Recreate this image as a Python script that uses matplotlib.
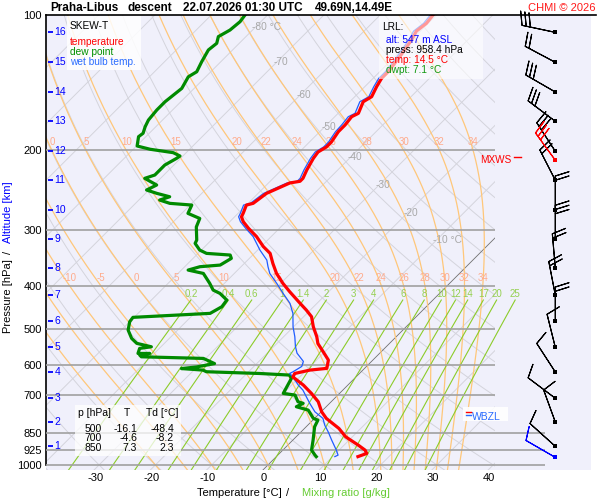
import numpy as np
import matplotlib
matplotlib.use('Agg')
import matplotlib.pyplot as plt
from matplotlib.patches import Rectangle
from matplotlib.lines import Line2D
from matplotlib.transforms import ScaledTranslation

plt.rcParams['font.family'] = ['Liberation Sans', 'DejaVu Sans']
plt.rcParams['axes.unicode_minus'] = False

# ---------------- data ----------------
temp_p = [100, 104.4, 108.6, 113.6, 123.8, 133.7, 138.3, 144.3, 151.9, 155.9, 165.4, 168.3, 175.6, 181.7, 191.6,
          196.5, 201.6, 208.3, 221.1, 230.7, 234.2, 236.2, 249.1, 262.2, 264.5, 276.0, 280.8, 288.0, 297.9, 310.8,
          327.2, 338.7, 356.8, 375.3, 394.9, 412.2, 437.4, 452.7, 468.3, 493.0, 519.0, 537.3, 560.4, 584.7, 610.1,
          615.5, 626.3, 637.6, 664.6, 693.4, 723.7, 762.0, 788.2, 829.5, 866.0, 903.5, 926.9, 942.8, 958.4]
temp_T = [-50.6, -50.3, -50.7, -50.0, -49.1, -48.5, -48.5, -47.9, -47.0, -47.6, -46.4, -47.0, -46.7, -46.7, -46.1,
          -46.1, -46.7, -46.4, -45.5, -44.7, -44.7, -46.2, -48.5, -49.1, -50.0, -49.1, -48.8, -47.6, -45.5, -42.6,
          -39.6, -37.2, -34.9, -32.5, -29.6, -26.9, -23.0, -20.7, -18.6, -16.5, -14.1, -12.7, -10.3, -7.9, -6.7,
          -9.4, -11.5, -11.2, -7.9, -5.0, -2.3, 0.1, 2.1, 6.1, 8.8, 12.5, 14.6, 15.5, 14.5]

wetb_p = [100, 104.4, 108.6, 113.6, 123.8, 133.7, 138.3, 144.3, 151.9, 155.9, 165.4, 168.3, 175.6, 181.7, 191.6,
          196.5, 201.6, 208.3, 221.1, 230.7, 234.2, 236.2, 249.1, 262.2, 264.5, 276.0, 280.8, 288.0, 297.9,
          310.8, 333.0, 350.5, 362.7, 375.3, 394.9, 415.6, 437.4, 460.4, 493.0, 519.0, 545.0, 564.4, 588.8, 604.1,
          620.7, 626.3, 637.6, 664.6, 681.8, 705.5, 730.0, 762.0, 788.2, 815.6, 844.0, 880.7, 926.9, 951.0, 958.4]
wetb_T = [-51.1, -50.8, -51.2, -50.5, -49.6, -49.0, -49.0, -48.4, -47.5, -48.2, -47.0, -47.6, -47.3, -47.2, -46.6,
          -46.6, -47.2, -46.9, -46.0, -45.2, -45.2, -46.7, -49.0, -49.6, -50.5, -49.6, -49.3, -48.1, -46.0,
          -43.2, -39.6, -36.6, -35.2, -33.7, -30.7, -27.8, -24.8, -22.5, -20.1, -18.0, -16.2, -14.7, -12.1, -11.5,
          -12.1, -12.4, -11.2, -8.8, -7.1, -5.3, -3.5, -1.1, 1.5, 3.0, 4.8, 6.9, 9.5, 10.7, 10.4]

dwpt_p = [100, 103.5, 108.0, 111.7, 115.6, 119.6, 127.0, 133.7, 137.2, 145.6, 150.6, 155.9, 162.6, 171.2, 177.1,
          183.2, 186.4, 195.5, 198.8, 202.3, 205.8, 208.3, 215.5, 226.8, 230.7, 238.7, 244.9, 249.1, 253.5, 257.8,
          262.2, 264.5, 276.0, 283.3, 295.9, 316.4, 321.8, 333.0, 338.7, 341.6, 347.5, 359.6, 362.6, 368.9, 375.3,
          394.9, 408.7, 415.7, 430.1, 445.0, 460.4, 469.9, 480.6, 501.5, 523.3, 536.8, 546.3, 550.8, 565.2, 565.2,
          570.0, 575.0, 579.8, 595.3, 605.7, 610.7, 615.5, 620.7, 626.3, 631.4, 642.6, 693.4, 699.5, 723.7, 729.6,
          742.4, 755.3, 788.2, 795.0, 822.6, 880.7, 926.9, 951.0, 958.4]
dwpt_T = [-84.0, -83.7, -84.0, -84.9, -84.0, -84.3, -83.4, -82.5, -83.1, -82.2, -82.5, -82.8, -82.8, -82.5, -81.9,
          -81.1, -81.3, -79.9, -77.0, -72.3, -70.5, -70.7, -71.6, -71.6, -72.8, -69.5, -70.4, -68.0, -65.1, -66.3,
          -63.9, -59.7, -58.9, -55.9, -55.0, -52.6, -52.3, -50.3, -48.5, -44.0, -43.2, -44.0, -47.3, -48.8, -45.5,
          -42.6, -40.8, -39.0, -36.6, -36.3, -37.2, -50.2, -50.0, -48.8, -46.7, -44.9, -41.7, -43.5, -42.9, -40.8,
          -42.3, -41.7, -30.4, -27.5, -30.1, -32.5, -28.4, -27.5, -17.7, -12.1, -11.2, -10.0, -7.6, -5.9, -4.7,
          -5.3, -2.6, -0.2, 0.9, 1.5, 3.6, 5.1, 6.6, 7.1]

alt_km = [1, 2, 3, 4, 5, 6, 7, 8, 9, 10, 11, 12, 13, 14, 15, 16]
alt_p = [909.1, 802.8, 711.0, 621.5, 547.7, 478.8, 419.1, 364.5, 315.1, 271.3, 233.0, 200.9, 172.3, 148.3, 127.4, 109.3]
wind_dir = [312, 340, 307, 327, 346, 0, 349, 355, 0, 0, 333, 327, 307, 300, 298, 282]
wind_spd = [10, 10, 10, 10, 10, 20, 20, 20, 30, 20, 20, 30, 30, 30, 20, 30]

lrl_alt = 547
lrl_press = 958.4
lrl_temp = 14.5
lrl_dwpt = 7.1
lrl_wdir, lrl_wspd = 300, 10
mxws_p, mxws_dir, mxws_spd = 210.4, 324, 30
frz_p = 763.9
wbzl_p = 775.7

tab_p = [500, 700, 850]
tab_T = [-16.1, -4.6, 7.3]
tab_Td = [-48.4, -8.2, 2.3]

press_ticks = [100, 200, 300, 400, 500, 600, 700, 850, 925, 1000]
temp_ticks = [-30, -20, -10, 0, 10, 20, 30, 40]
mr_vals = [0.2, 0.4, 0.6, 1, 1.4, 2, 3, 4, 6, 8, 10, 12, 14, 17, 20, 25]
thw_vals = [-20, -15, -10, -5, 0, 5, 10, 15, 20, 22, 24, 26, 28, 30, 32, 34]
iso_lab_T = [-80, -70, -60, -50, -40, -30, -20, -10]
iso_lab_p = [106.3, 127.2, 150.6, 177.3, 206.9, 238.7, 275.5, 316.3]

# ---------------- geometry ----------------
K = 34.71            # skew: degC per ln(p) unit
PX = 5.63            # pixels per degC
X0PX = 268.0         # pixel of 0 degC at 1000 hPa
PBOT, PTOP = 1026.3, 100.0
XL, XR = (46 - X0PX) / PX, (591 - X0PX) / PX
XCLIP = (495 - X0PX) / PX
XLOW = (545 - X0PX) / PX


def skx(T, p):
    return np.asarray(T, dtype=float) + K * np.log(1000.0 / np.asarray(p, dtype=float))


def pxx(px):
    return (px - X0PX) / PX


fig = plt.figure(figsize=(6, 5), dpi=100)
fig.patch.set_facecolor('white')
ax = fig.add_axes([46 / 600, 30 / 500, 545 / 600, 455 / 500])
ax.set_facecolor('#f0f0fb')
ax.set_yscale('log')
ax.set_ylim(PBOT, PTOP)
ax.set_xlim(XL, XR)
for s in ['top', 'right', 'bottom']:
    ax.spines[s].set_visible(False)
ax.spines['left'].set_bounds(1000, 100)
ax.spines['left'].set_linewidth(1.2)

ax.set_yticks(press_ticks)
ax.set_yticklabels([str(v) for v in press_ticks])
ax.yaxis.set_minor_locator(matplotlib.ticker.NullLocator())
ax.tick_params(axis='y', length=0, pad=3, labelsize=8)
ax.set_xticks(temp_ticks)
ax.set_xticklabels([str(v) for v in temp_ticks])
ax.tick_params(axis='x', length=0, pad=2.5, labelsize=8)
for lab in ax.get_xticklabels():
    lab.set_transform(lab.get_transform() + ScaledTranslation(-0.04, 0, fig.dpi_scale_trans))

clip = Rectangle((0, 0), (495 - 46) / 545, 1, transform=ax.transAxes)
pp = np.geomspace(PBOT, PTOP, 300)

# isotherms
for T in range(-130, 60, 10):
    if T == 0:
        ln, = ax.plot(skx(T, pp), pp, color='#707070', lw=0.6, zorder=2)
    else:
        ln, = ax.plot(skx(T, pp), pp, color='#d4d4dc', lw=0.7, zorder=1)
    ln.set_clip_path(clip)
# dry adiabats
for th in range(-40, 220, 10):
    Tk = (th + 273.15) * (pp / 1000.0) ** 0.2857 - 273.15
    ln, = ax.plot(skx(Tk, pp), pp, color='#d4d4dc', lw=0.7, zorder=1)
    ln.set_clip_path(clip)


# pseudo adiabats
def dTdp(T, p):
    es = 6.112 * np.exp(17.67 * (T - 273.15) / (T - 29.65))
    rs = 0.622 * es / (p - es)
    return (287.04 * T + 2.501e6 * rs) / (1005.7 + 2.501e6 ** 2 * rs * 0.622 / (287.04 * T * T)) / p


def integ(T0, plev):
    out = [T0.copy()]
    T = T0.copy()
    for i in range(len(plev) - 1):
        p0, p1 = plev[i], plev[i + 1]
        h = p1 - p0
        k1 = dTdp(T, p0)
        k2 = dTdp(T + 0.5 * h * k1, p0 + 0.5 * h)
        k3 = dTdp(T + 0.5 * h * k2, p0 + 0.5 * h)
        k4 = dTdp(T + h * k3, p1)
        T = T + h / 6 * (k1 + 2 * k2 + 2 * k3 + k4)
        out.append(T.copy())
    return np.array(out)


T0 = np.array(thw_vals, dtype=float) + 273.15
p_up = np.geomspace(1000, PTOP, 400)
p_dn = np.geomspace(1000, PBOT, 20)
Tup = integ(T0, p_up)
Tdn = integ(T0, p_dn)
p_all = np.concatenate([p_dn[::-1], p_up[1:]])
for j, thw in enumerate(thw_vals):
    Tall = np.concatenate([Tdn[::-1, j], Tup[1:, j]]) - 273.15
    Xall = skx(Tall, p_all)
    ln, = ax.plot(Xall, p_all, color='#ffc77a', lw=0.9, zorder=2)
    ln.set_clip_path(clip)
    for plab in (200, 400):
        xl = np.interp(np.log(plab), np.log(p_up[::-1]), skx(Tup[::-1, j] - 273.15, p_up[::-1]))
        if pxx(50) < xl < pxx(492):
            ax.text(xl, plab * 0.985, str(thw), ha='center', va='bottom', color='#ffab8c', fontsize=7, zorder=3)

# mixing ratio lines
pm = np.geomspace(PBOT, 430, 60)
for w in mr_vals:
    e = w * pm / (622.0 + w)
    a = np.log(e / 6.112)
    Td = 243.5 * a / (17.67 - a)
    ax.plot(skx(Td, pm), pm, color='#8ccc2a', lw=0.8, zorder=2)
    lab = ('%g' % w)
    ax.text(skx(Td[-1], pm[-1]), 428, lab, ha='center', va='bottom', color='#95d050', fontsize=7, zorder=3)

# isotherm labels
for T, pl in zip(iso_lab_T, iso_lab_p):
    s = '%d °C' % T if T in (-80, -10) else '%d' % T
    ax.text(skx(T, pl) - 0.6, pl, s, ha='left', va='center', color='#a8a8a8', fontsize=7.3, zorder=3)

# pressure lines
ax.hlines([200, 300, 400, 500, 600, 700], XL, XCLIP, colors='#a0a0a0', lw=1.2, zorder=3)
ax.hlines([850, 925, 1000], XL, XLOW, colors='#a0a0a0', lw=1.2, zorder=3)

# profiles
ax.plot(skx(dwpt_T, dwpt_p), dwpt_p, color='#008a00', lw=2.3, zorder=5, solid_joinstyle='round')
ax.plot(skx(wetb_T, wetb_p), wetb_p, color='#1f5cff', lw=0.9, zorder=5)
ax.plot(skx(temp_T, temp_p), temp_p, color='#ff0000', lw=2.3, zorder=6, solid_joinstyle='round')

# altitude ticks
ytr = ax.get_yaxis_transform()
ax.hlines(alt_p, 0.003, 0.013, transform=ytr, colors='#0000ff', lw=1.3, zorder=7)
for km, p in zip(alt_km, alt_p):
    ax.text(0.0155, p, str(km), transform=ytr, color='#0000ff', va='center', ha='left', fontsize=7.5, zorder=7)

# wind barbs
BL = 7
XB = pxx(555.3)
d = np.radians(wind_dir)
u = -np.array(wind_spd) * np.sin(d)
v = -np.array(wind_spd) * np.cos(d)
ax.barbs(np.full(len(alt_p), XB), alt_p, u, v, length=BL, pivot='tip', color='black', linewidth=0.8,
         zorder=8, clip_on=False)
dm = np.radians(mxws_dir)
ax.barbs([XB], [mxws_p], [-mxws_spd * np.sin(dm)], [-mxws_spd * np.cos(dm)], length=BL, pivot='tip',
         color='red', linewidth=0.8, zorder=8, clip_on=False)
dl = np.radians(lrl_wdir)
ax.barbs([XB], [lrl_press], [-lrl_wspd * np.sin(dl)], [-lrl_wspd * np.cos(dl)], length=BL, pivot='tip',
         color='#0000ff', linewidth=0.8, zorder=8, clip_on=False)
ax.scatter(np.full(len(alt_p), XB), alt_p, marker='s', s=7, color='black', zorder=9, linewidths=0)
ax.scatter([XB], [mxws_p], marker='s', s=7, color='red', zorder=9, linewidths=0)
ax.scatter([XB], [lrl_press], marker='s', s=7, color='#0000ff', zorder=9, linewidths=0)

# MXWS marker
ax.text(pxx(511), mxws_p, 'MXWS', color='red', ha='right', va='center', fontsize=7.2, zorder=7)
ax.plot([pxx(514), pxx(521)], [mxws_p * 0.985, mxws_p * 0.985], color='red', lw=1.0, zorder=7)


# ---------------- figure level text / boxes ----------------
def fx(x):
    return x / 600.0


def fy(y):
    return 1 - y / 500.0


def fbox(x0, y0, x1, y1, alpha):
    fig.add_artist(Rectangle((fx(x0), fy(y1)), (x1 - x0) / 600.0, (y1 - y0) / 500.0, transform=fig.transFigure,
                             facecolor='white', edgecolor='none', alpha=alpha, zorder=3))


def ftext(x, y, s, **kw):
    kw.setdefault('va', 'center')
    kw.setdefault('zorder', 4)
    fig.text(fx(x), fy(y), s, **kw)


# WBZL
fbox(463, 407, 508, 421, 0.9)
for pl, col in ((frz_p, 'red'), (wbzl_p, '#2a6cff')):
    ln, = ax.plot([pxx(466), pxx(471)], [pl, pl], color=col, lw=1.0, zorder=10)
    ln.remove()
    ln.set_zorder(5)
    fig.add_artist(ln)
ftext(472, 417, 'WBZL', color='#2a6cff', fontsize=7.5, ha='left')

# top spine
fig.add_artist(Line2D([fx(45.5), fx(596)], [fy(15), fy(15)], color='black', lw=1.2, transform=fig.transFigure,
                      zorder=5))

# title
ftext(50, 8, 'Praha-Libus', fontsize=8.5, fontweight='bold', ha='left')
ftext(128, 8, 'descent', fontsize=8.5, fontweight='bold', ha='left')
ftext(183, 8, '22.07.2026 01:30 UTC', fontsize=8.5, fontweight='bold', ha='left')
ftext(315, 8, '49.69N,14.49E', fontsize=8.5, fontweight='bold', ha='left')
ftext(596, 8, 'CHMI © 2026', fontsize=8, color='#ff1a1a', ha='right')

# legend box
fbox(67, 16, 141, 70, 0.85)
ftext(70, 26, 'SKEW-T', fontsize=7.3, ha='left')
ftext(70, 42, 'temperature', fontsize=7.3, color='#ff0000', ha='left')
ftext(70, 52, 'dew point', fontsize=7.3, color='#009000', ha='left')
ftext(70, 62, 'wet bulb temp.', fontsize=7.3, color='#2a6cff', ha='left')

# LRL box
fbox(379, 16, 483, 79, 0.6)
ftext(382, 27, 'LRL:', fontsize=7.3, ha='left')
ftext(386, 40, 'alt: %d m ASL' % lrl_alt, fontsize=7.3, color='#0000ff', ha='left')
ftext(386, 50, 'press: %.1f hPa' % lrl_press, fontsize=7.3, ha='left')
ftext(386, 60, 'temp: %.1f °C' % lrl_temp, fontsize=7.3, color='#ff0000', ha='left')
ftext(386, 70, 'dwpt: %.1f °C' % lrl_dwpt, fontsize=7.3, color='#119911', ha='left')

# table box
fbox(75, 405, 181, 456, 0.75)
ftext(78, 413, 'p [hPa]', fontsize=7.5, ha='left')
ftext(127, 413, 'T', fontsize=7.5, ha='center')
ftext(146, 413, 'Td [°C]', fontsize=7.5, ha='left')
for i, (p, t, td) in enumerate(zip(tab_p, tab_T, tab_Td)):
    yy = 428.5 + 9.9 * i
    ftext(102, yy, '%d' % p, fontsize=7.5, ha='right')
    ftext(137, yy, '%.1f' % t, fontsize=7.5, ha='right')
    ftext(174, yy, '%.1f' % td, fontsize=7.5, ha='right')

# axis titles
ftext(197, 493, 'Temperature [°C]', fontsize=8, ha='left')
ftext(288, 493, '/', fontsize=8, ha='center')
ftext(302, 493, 'Mixing ratio [g/kg]', fontsize=8, ha='left', color='#66cc33')
ftext(8, 296, 'Pressure [hPa]', fontsize=8, ha='center', rotation=90)
ftext(8, 252, '/', fontsize=8, ha='center', rotation=90)
ftext(8, 212.5, 'Altitude [km]', fontsize=8, ha='center', rotation=90, color='#0000ff')

fig.savefig('out.png', dpi=100)
